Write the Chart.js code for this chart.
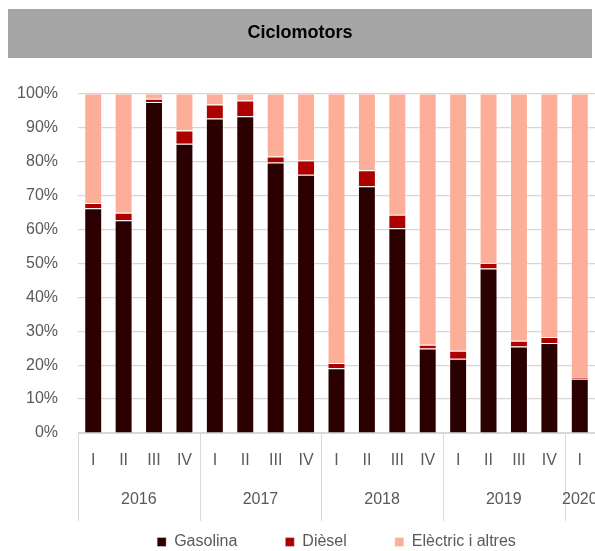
<!DOCTYPE html>
<html>
<head>
<meta charset="utf-8">
<script src="https://cdn.jsdelivr.net/npm/chart.js@4.4.1/dist/chart.umd.min.js"></script>
<style>
  html, body { margin: 0; padding: 0; overflow: hidden; background: #fff; }
  #wrap { position: relative; width: 600px; height: 551px; }
</style>
</head>
<body>
<div id="wrap"><canvas id="c" width="600" height="551"></canvas></div>
<script>
// ---- data ----
const quarterLabels = ['I','II','III','IV','I','II','III','IV','I','II','III','IV','I','II','III','IV','I'];
const years = ['2016','2017','2018','2019','2020'];
const quartersPerYear = [4, 4, 4, 4, 1];
const gasolina = [66.2, 62.7, 97.5, 85.2, 92.7, 93.3, 79.7, 76.1, 19.1, 72.7, 60.3, 24.9, 21.9, 48.5, 25.5, 26.5, 16.0];
const diesel   = [1.6, 2.2, 1.0, 3.9, 4.1, 4.7, 1.8, 4.2, 1.5, 4.7, 4.0, 1.1, 2.3, 1.6, 1.7, 1.8, 0.5];
const electric = [32.2, 35.1, 1.5, 10.9, 3.2, 2.0, 18.5, 19.7, 79.4, 22.6, 35.7, 74.0, 75.8, 49.9, 72.8, 71.7, 83.5];
const seriesNames = ['Gasolina', 'Dièsel', 'Elèctric i altres'];
const yTickValues = [0, 10, 20, 30, 40, 50, 60, 70, 80, 90, 100];

const FONT = "'Liberation Sans', Arial, sans-serif";
const TXT = '#595959';

const titleBand = {
  id: 'titleBand',
  beforeDraw(chart) {
    const ctx = chart.ctx;
    ctx.save();
    ctx.fillStyle = '#a6a6a6';
    ctx.fillRect(8, 9, chart.width - 16, 49);
    ctx.restore();
  }
};

const yearAxis = {
  id: 'yearAxis',
  afterDraw(chart) {
    const x = chart.scales.x;
    const ctx = chart.ctx;
    const bottom = chart.chartArea.bottom;
    const half = (x.getPixelForValue(1) - x.getPixelForValue(0)) / 2;
    ctx.save();
    ctx.strokeStyle = '#d9d9d9';
    ctx.lineWidth = 1;
    ctx.fillStyle = TXT;
    ctx.font = '16px ' + FONT;
    ctx.textAlign = 'center';
    ctx.textBaseline = 'middle';
    let idx = 0;
    const drawSep = (px) => {
      ctx.beginPath();
      ctx.moveTo(Math.round(px) + 0.5, bottom);
      ctx.lineTo(Math.round(px) + 0.5, bottom + 88);
      ctx.stroke();
    };
    years.forEach((yr, k) => {
      const n = quartersPerYear[k];
      const left = x.getPixelForValue(idx) - half;
      drawSep(left);
      ctx.fillText(yr, (x.getPixelForValue(idx) + x.getPixelForValue(idx + n - 1)) / 2, bottom + 67);
      idx += n;
    });
    ctx.restore();
  }
};

new Chart(document.getElementById('c'), {
  type: 'bar',
  data: {
    labels: quarterLabels,
    datasets: [
      { label: seriesNames[0], data: gasolina, backgroundColor: '#2b0000', borderColor: 'rgba(255,255,255,0.35)', borderWidth: 1 },
      { label: seriesNames[1], data: diesel, backgroundColor: '#ad0000', borderColor: 'rgba(255,255,255,0.35)', borderWidth: 1 },
      { label: seriesNames[2], data: electric, backgroundColor: '#fcae98', borderColor: 'rgba(255,255,255,0.35)', borderWidth: 1 }
    ]
  },
  options: {
    responsive: false,
    animation: false,
    layout: { padding: { left: 0, right: 0, top: 0, bottom: -9 } },
    datasets: { bar: { categoryPercentage: 1, barPercentage: 0.59 } },
    plugins: {
      title: {
        display: true,
        text: 'Ciclomotors',
        color: '#000',
        font: { family: FONT, size: 18, weight: 'bold', lineHeight: 1.2 },
        padding: { top: 22, bottom: 50 }
      },
      legend: {
        position: 'bottom',
        fullSize: false,
        labels: {
          boxWidth: 9,
          boxHeight: 9,
          padding: 48,
          color: TXT,
          font: { family: FONT, size: 16 }
        }
      },
      tooltip: { enabled: false }
    },
    scales: {
      x: {
        stacked: true,
        grid: { display: false, drawTicks: false },
        border: { display: true, color: '#d9d9d9', width: 1 },
        ticks: { color: TXT, font: { family: FONT, size: 16 }, padding: 18, maxRotation: 0, autoSkip: false },
        afterFit(scale) { scale.height = 53; }
      },
      y: {
        stacked: true,
        min: 0,
        max: 100,
        grid: { color: '#d6d6d6', lineWidth: 1.2, drawTicks: false },
        border: { display: false },
        afterBuildTicks(scale) { scale.ticks = yTickValues.map(v => ({ value: v })); },
        ticks: { color: TXT, font: { family: FONT, size: 16 }, padding: 20, callback: v => v + '%' },
        afterFit(scale) { scale.width = 78; }
      }
    }
  },
  plugins: [titleBand, yearAxis]
});
</script>
</body>
</html>
